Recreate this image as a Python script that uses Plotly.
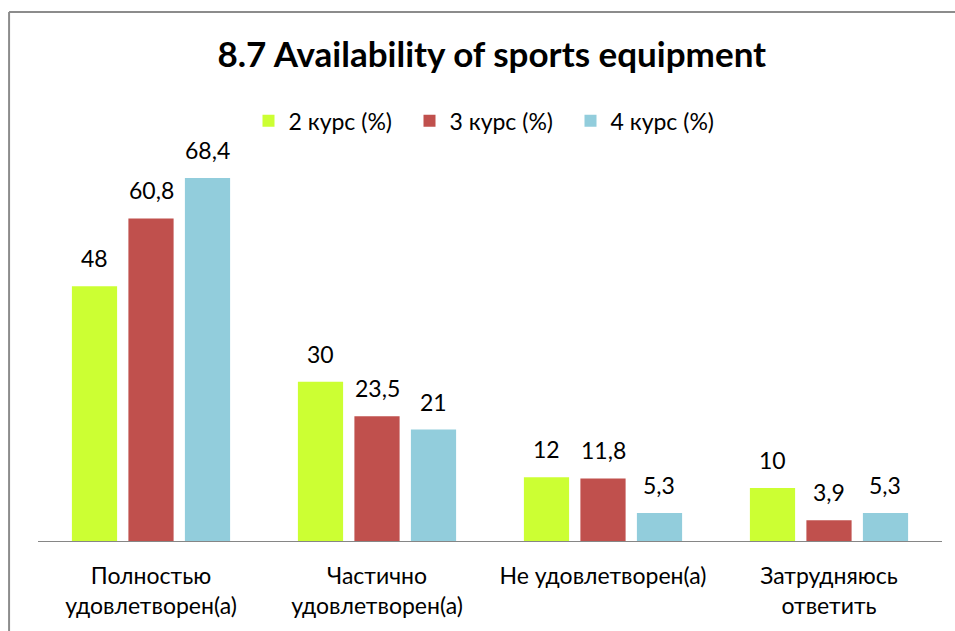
import plotly.graph_objects as go

categories = ["Полностью<br>удовлетворен(а)", "Частично<br>удовлетворен(а)",
              "Не удовлетворен(а)", "Затрудняюсь<br>ответить"]
series_names = ["2 курс (%)", "3 курс (%)", "4 курс (%)"]
kurs2 = [48, 30, 12, 10]
kurs3 = [60.8, 23.5, 11.8, 3.9]
kurs4 = [68.4, 21, 5.3, 5.3]
colors = ["#CCFF33", "#C0504D", "#92CDDC"]

FONT = "Lato"
SLOT = 56.4  # px between bar centres inside a group

fig = go.Figure()
for i, (name, vals, col) in enumerate(zip(series_names, [kurs2, kurs3, kurs4], colors)):
    fig.add_trace(go.Bar(
        name=name, x=categories, y=vals,
        marker=dict(color=col, line=dict(width=0)),
    ))
    # value labels sit a bit higher above the bars than plotly's "outside" text
    for cat, v in zip(categories, vals):
        fig.add_annotation(x=cat, y=v, text=str(v).replace(".", ","),
                           showarrow=False, yanchor="middle", yshift=28,
                           xshift=(i - 1) * SLOT,
                           font=dict(family=FONT, size=23, color="black"))

# chart frame (left and top edges visible in the reference)
fig.add_shape(type="line", xref="paper", yref="paper",
              x0=-0.032, y0=1.353, x1=1.2, y1=1.353,
              line=dict(color="#8C8C8C", width=2))
fig.add_shape(type="line", xref="paper", yref="paper",
              x0=-0.032, y0=1.353, x1=-0.032, y1=-0.4,
              line=dict(color="#8C8C8C", width=2))

fig.update_layout(
    width=955, height=631,
    paper_bgcolor="white", plot_bgcolor="white",
    margin=dict(l=38, r=13, t=150, b=90),
    barmode="group", bargap=0.25, bargroupgap=0.2,
    title=dict(text="<b>8.7 Availability of sports equipment</b>",
               x=0.515, xanchor="center", y=0.913, yanchor="middle",
               font=dict(family=FONT, size=35, color="black")),
    legend=dict(orientation="h", x=0.5, xanchor="center", y=1.075, yanchor="middle",
                font=dict(family=FONT, size=23, color="black"),
                itemwidth=30, entrywidth=116, traceorder="normal"),
    showlegend=True,
    font=dict(family=FONT, size=23, color="black"),
    xaxis=dict(showline=True, linecolor="#868686", linewidth=1,
               ticks="", tickfont=dict(family=FONT, size=23, color="black"),
               ticklabelstandoff=14, showgrid=False),
    yaxis=dict(range=[0, 73.7], visible=False, showgrid=False, zeroline=False),
)

fig.write_html("out.html", config={"displayModeBar": False},
               post_script="document.body.style.margin='0';")
